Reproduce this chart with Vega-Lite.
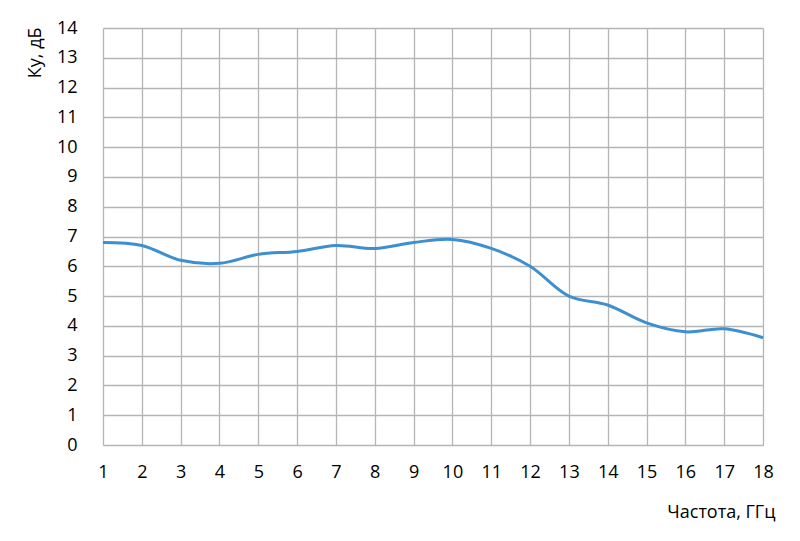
{
  "$schema": "https://vega.github.io/schema/vega-lite/v6.json",
  "width": 660,
  "height": 417,
  "autosize": {"type": "none"},
  "padding": {"left": 103, "top": 28, "right": 37, "bottom": 96},
  "background": "white",
  "config": {
    "view": {"stroke": null},
    "font": "Open Sans"
  },
  "data": {
    "values": [
      {"f": 1, "k": 6.8},
      {"f": 2, "k": 6.7},
      {"f": 3, "k": 6.2},
      {"f": 4, "k": 6.1},
      {"f": 5, "k": 6.4},
      {"f": 6, "k": 6.5},
      {"f": 7, "k": 6.7},
      {"f": 8, "k": 6.6},
      {"f": 9, "k": 6.8},
      {"f": 10, "k": 6.9},
      {"f": 11, "k": 6.6},
      {"f": 12, "k": 6.0},
      {"f": 13, "k": 5.0},
      {"f": 14, "k": 4.7},
      {"f": 15, "k": 4.1},
      {"f": 16, "k": 3.8},
      {"f": 17, "k": 3.9},
      {"f": 18, "k": 3.6}
    ]
  },
  "mark": {"type": "line", "interpolate": "catmull-rom", "color": "#3d8fcf", "strokeWidth": 3},
  "encoding": {
    "x": {
      "field": "f", "type": "quantitative",
      "scale": {"domain": [1, 18], "nice": false, "zero": false},
      "axis": {
        "title": "Частота, ГГц",
        "values": [1,2,3,4,5,6,7,8,9,10,11,12,13,14,15,16,17,18],
        "format": "d",
        "domain": false, "ticks": false,
        "labelFlush": false, "labelOverlap": false,
        "grid": true, "gridColor": "#b5b5b5", "gridWidth": 1.3,
        "labelFontSize": 18, "labelColor": "#000", "labelPadding": 18,
        "labelFont": "Open Sans", "labelFontWeight": "normal",
        "titleFontSize": 18, "titleColor": "#000", "titleFontWeight": "normal",
        "titleFont": "Open Sans",
        "titleAnchor": "end", "titleAlign": "right", "titleX": 672, "titleY": 72, "titleBaseline": "alphabetic"
      }
    },
    "y": {
      "field": "k", "type": "quantitative",
      "scale": {"domain": [0, 14], "nice": false},
      "axis": {
        "title": "Ку, дБ",
        "values": [0,1,2,3,4,5,6,7,8,9,10,11,12,13,14],
        "domain": false, "ticks": false,
        "labelFlush": false, "labelOverlap": false,
        "grid": true, "gridColor": "#b5b5b5", "gridWidth": 1.3,
        "labelFontSize": 18, "labelColor": "#000", "labelPadding": 26,
        "labelFont": "Open Sans",
        "titleFontSize": 18, "titleColor": "#000", "titleFontWeight": "normal",
        "titleFont": "Open Sans",
        "titleAngle": -90, "titleAlign": "right", "titleBaseline": "middle",
        "titleX": -68, "titleY": -1
      }
    }
  }
}
